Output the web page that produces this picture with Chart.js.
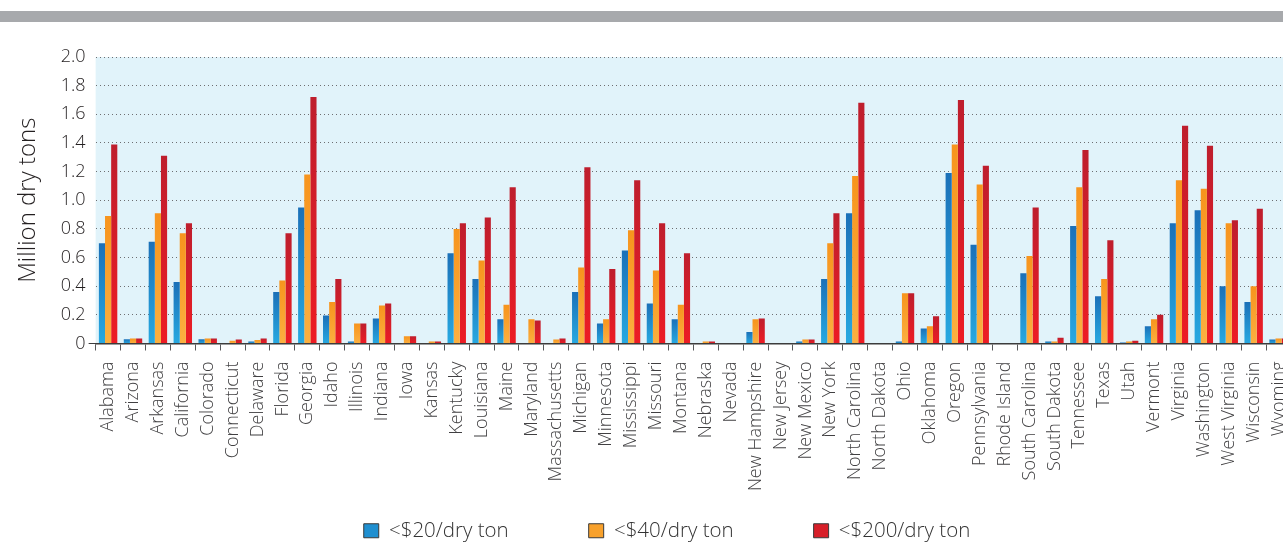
<!DOCTYPE html>
<html>
<head>
<meta charset="utf-8">
<title>Biomass supply by state</title>
<script src="https://cdn.jsdelivr.net/npm/chart.js@4/dist/chart.umd.min.js"></script>
<style>
  body { margin: 0; background: #fff; }
  #frame { position: relative; width: 1283px; height: 542px; overflow: hidden; }
  #band { position: absolute; left: 0; top: 11px; width: 1283px; height: 11px; background: #a7a9ac; }
  #box { position: absolute; left: 0; top: 0; width: 1334px; height: 551px; }
</style>
</head>
<body>
<div id="frame">
  <div id="band"></div>
  <div id="box"><canvas id="my-chart"></canvas></div>
</div>
<script>
const states = ['Alabama', 'Arizona', 'Arkansas', 'California', 'Colorado', 'Connecticut', 'Delaware',
  'Florida', 'Georgia', 'Idaho', 'Illinois', 'Indiana', 'Iowa', 'Kansas', 'Kentucky', 'Louisiana',
  'Maine', 'Maryland', 'Massachusetts', 'Michigan', 'Minnesota', 'Mississippi', 'Missouri', 'Montana',
  'Nebraska', 'Nevada', 'New Hampshire', 'New Jersey', 'New Mexico', 'New York', 'North Carolina',
  'North Dakota', 'Ohio', 'Oklahoma', 'Oregon', 'Pennsylvania', 'Rhode Island', 'South Carolina',
  'South Dakota', 'Tennessee', 'Texas', 'Utah', 'Vermont', 'Virginia', 'Washington', 'West Virginia',
  'Wisconsin', 'Wyoming'];

// million dry tons
const under20 = [0.70, 0.03, 0.71, 0.43, 0.03, 0, 0.014, 0.36, 0.95, 0.195, 0.014, 0.175, 0, 0,
  0.63, 0.45, 0.17, 0, 0, 0.36, 0.14, 0.65, 0.28, 0.17, 0, 0, 0.08, 0, 0.014, 0.45, 0.91,
  0, 0.014, 0.105, 1.19, 0.69, 0, 0.49, 0.014, 0.82, 0.33, 0.007, 0.12, 0.84, 0.93, 0.40, 0.29, 0.028];
const under40 = [0.89, 0.035, 0.91, 0.77, 0.035, 0.02, 0.025, 0.44, 1.18, 0.29, 0.14, 0.265, 0.05, 0.014,
  0.80, 0.58, 0.27, 0.17, 0.028, 0.53, 0.17, 0.79, 0.51, 0.27, 0.014, 0, 0.17, 0, 0.028, 0.70, 1.17,
  0, 0.35, 0.12, 1.39, 1.11, 0, 0.61, 0.014, 1.09, 0.45, 0.014, 0.17, 1.14, 1.08, 0.84, 0.40, 0.035];
const under200 = [1.39, 0.035, 1.31, 0.84, 0.035, 0.028, 0.035, 0.77, 1.72, 0.45, 0.14, 0.28, 0.05, 0.014,
  0.84, 0.88, 1.09, 0.16, 0.035, 1.23, 0.52, 1.14, 0.84, 0.63, 0.014, 0, 0.175, 0, 0.028, 0.91, 1.68,
  0, 0.35, 0.19, 1.70, 1.24, 0, 0.95, 0.04, 1.35, 0.72, 0.02, 0.20, 1.52, 1.38, 0.86, 0.94, 0.035];

const seriesLabels = ['<$20/dry ton', '<$40/dry ton', '<$200/dry ton'];
const yTicks = [0, 0.2, 0.4, 0.6, 0.8, 1.0, 1.2, 1.4, 1.6, 1.8, 2.0];

// each bar gets its own top-to-bottom gradient
function barGradient(top, bottom, flat) {
  return function (context) {
    const chart = context.chart;
    if (context.type !== 'data' || !chart.chartArea || !chart.scales.y) return flat;
    const y = chart.scales.y;
    const y0 = y.getPixelForValue(0);
    const y1 = y.getPixelForValue(context.raw);
    if (!isFinite(y1) || y0 - y1 < 1) return top;
    const g = chart.ctx.createLinearGradient(0, y1, 0, y0);
    g.addColorStop(0, top);
    g.addColorStop(1, bottom);
    return g;
  };
}

const plotBackground = {
  id: 'plotBackground',
  beforeDraw(chart) {
    const { ctx, chartArea } = chart;
    ctx.save();
    ctx.fillStyle = '#e1f3fa';
    ctx.fillRect(chartArea.left, chartArea.top, chartArea.right - chartArea.left, chartArea.bottom - chartArea.top);
    ctx.restore();
  }
};

// the x scale box is kept short so the legend sits close under it,
// but its labels must not be clipped to that short box
const longLabels = {
  id: 'longLabels',
  afterLayout(chart) {
    chart.scales.x.bottom = chart.height;
  }
};

const legendFill = ['#1f8fd0', '#f8a12c', '#d71f29'];

const ctx = document.getElementById('my-chart').getContext('2d');
const chart = new Chart(ctx, {
  type: 'bar',
  data: {
    labels: states,
    datasets: [
      { label: seriesLabels[0], data: under20, backgroundColor: barGradient('#1b70b8', '#27a9e1', legendFill[0]) },
      { label: seriesLabels[1], data: under40, backgroundColor: barGradient('#f7941d', '#fbb040', legendFill[1]) },
      { label: seriesLabels[2], data: under200, backgroundColor: barGradient('#be1e2d', '#ed1c24', legendFill[2]) }
    ]
  },
  options: {
    responsive: true,
    maintainAspectRatio: false,
    animation: false,
    layout: { padding: { top: 57, right: 0, left: 0, bottom: 0 } },
    datasets: { bar: { categoryPercentage: 0.74, barPercentage: 1.0, borderWidth: 0 } },
    plugins: {
      tooltip: { enabled: false },
      legend: {
        position: 'bottom',
        labels: {
          boxWidth: 15,
          boxHeight: 14,
          padding: 80,
          color: '#333333',
          font: { family: 'Open Sans', size: 20.5, weight: 300 },
          generateLabels(chart) {
            const items = Chart.defaults.plugins.legend.labels.generateLabels(chart);
            items.forEach((item, i) => {
              item.fillStyle = legendFill[i];
              item.strokeStyle = '#3a3a3a';
              item.lineWidth = 1;
            });
            return items;
          }
        }
      }
    },
    scales: {
      x: {
        afterFit(scale) { scale.height = 97; },
        grid: {
          offset: true,
          drawOnChartArea: false,
          drawTicks: true,
          tickLength: 7,
          color: '#58595b',
          tickColor: '#58595b'
        },
        border: { color: '#3c3c3c', width: 1.5 },
        ticks: {
          autoSkip: false,
          maxRotation: 90,
          minRotation: 90,
          padding: 11,
          color: '#414042',
          font: { family: 'Open Sans', size: 18, weight: 300 }
        }
      },
      y: {
        min: 0,
        max: 2.0,
        afterBuildTicks(scale) { scale.ticks = yTicks.map(v => ({ value: v })); },
        title: {
          display: true,
          text: 'Million dry tons',
          color: '#231f20',
          font: { family: 'Open Sans', size: 24, weight: 300 },
          padding: { top: 14, bottom: 15 }
        },
        border: { display: false, dash: [1, 3] },
        grid: {
          color: c => (c.tick && c.tick.value === 0 ? 'rgba(0,0,0,0)' : '#6d6e71'),
          tickColor: c => (c.tick && c.tick.value === 0 ? '#3c3c3c' : 'rgba(0,0,0,0)'),
          tickLength: 7,
          tickBorderDash: [],
          lineWidth: 1
        },
        ticks: {
          padding: 3,
          color: '#231f20',
          font: { family: 'Open Sans', size: 18, weight: 300 },
          callback: v => (v === 0 ? '0' : v.toFixed(1))
        }
      },
      // empty right-hand strip: the plot runs past the picture edge while the legend stays centred
      spacer: {
        position: 'right',
        afterFit(scale) { scale.width = 43; },
        grid: { display: false },
        border: { display: false },
        ticks: { display: false }
      }
    }
  },
  plugins: [plotBackground, longLabels]
});
</script>
</body>
</html>
